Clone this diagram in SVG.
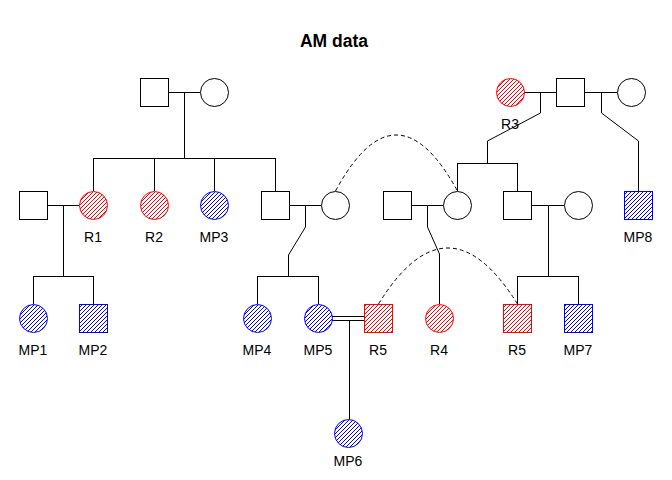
<svg xmlns="http://www.w3.org/2000/svg" width="672" height="480" viewBox="0 0 672 480">
<style>
.n{fill:#fff;stroke:#000;stroke-width:1}
.ro{fill:none;stroke:#f00;stroke-width:1}
.bo{fill:none;stroke:#00f;stroke-width:1}
.l{font-family:"Liberation Sans",Arial,sans-serif;font-size:14px;text-anchor:middle;fill:#000}
.t{font-family:"Liberation Sans",Arial,sans-serif;font-size:17.5px;font-weight:bold;text-anchor:middle;fill:#000}
#conn path{fill:none;stroke:#000;stroke-width:1}
#conn .d{stroke-dasharray:4,3}
</style>
<defs>
<path id="hr" d="M0,2L2,0M0,6L6,0M0,10L10,0M0,14L14,0M0,18L18,0M0,22L22,0M0,26L26,0M2,28L28,2M6,28L28,6M10,28L28,10M14,28L28,14M18,28L28,18M22,28L28,22M26,28L28,26" fill="none" stroke="#f00" stroke-width="1"/>
<path id="hb" d="M0,2L2,0M0,6L6,0M0,10L10,0M0,14L14,0M0,18L18,0M0,22L22,0M0,26L26,0M2,28L28,2M6,28L28,6M10,28L28,10M14,28L28,14M18,28L28,18M22,28L28,22M26,28L28,26" fill="none" stroke="#00f" stroke-width="1"/>
<path id="hr2" d="M0,3L3,0M0,7L7,0M0,11L11,0M0,15L15,0M0,19L19,0M0,23L23,0M0,27L27,0M3,28L28,3M7,28L28,7M11,28L28,11M15,28L28,15M19,28L28,19M23,28L28,23M27,28L28,27" fill="none" stroke="#f00" stroke-width="1"/>
<path id="hb2" d="M0,3L3,0M0,7L7,0M0,11L11,0M0,15L15,0M0,19L19,0M0,23L23,0M0,27L27,0M3,28L28,3M7,28L28,7M11,28L28,11M15,28L28,15M19,28L28,19M23,28L28,23M27,28L28,27" fill="none" stroke="#00f" stroke-width="1"/>
<clipPath id="cc"><circle cx="14" cy="14" r="14"/></clipPath>
</defs>
<rect width="672" height="480" fill="#fff"/>
<text class="t" x="334" y="47">AM data</text>
<g id="conn">
<path d="M168,92.5H200M184.5,92V158.5M93.5,158.5H275.5M93.5,158V191M154.5,158V191M214.5,158V191M275.5,158V191"/>
<path d="M524,92.5H556M584,92.5H617M540.5,92V113L487.5,141V163.5M457.5,163.5H517.5M457.5,163V191M517.5,163V191M601.5,92V113L638.5,141V191"/>
<path d="M47,205.5H79M63.5,205V276.5M33.5,276.5H93.5M33.5,276V304M93.5,276V304"/>
<path d="M289,205.5H321M305.5,205V227L288.5,255V276.5M257.5,276.5H318.5M257.5,276V304M318.5,276V304"/>
<path d="M411,205.5H443M427.5,205V227L439.5,254V304"/>
<path d="M532,205.5H564M548.5,205V276.5M517.5,276.5H578.5M517.5,276V304M578.5,276V304"/>
<path d="M332,316.5H364M332,320.5H364M349.5,320V419"/>
<path class="d" d="M335.5,191 Q396,79 457.5,191"/>
<path class="d" d="M378.5,304 Q447.5,192 517.5,304"/>
</g>
<g id="gf"><rect class="n" x="140.5" y="78.5" width="28" height="28"/></g>
<g id="gm"><circle class="n" cx="214.5" cy="92.5" r="14"/></g>
<g id="r3"><g transform="translate(496.5,78.5)"><use href="#hr" clip-path="url(#cc)"/><circle class="ro" cx="14" cy="14" r="14"/></g><text class="l" x="510" y="129">R3</text></g>
<g id="gf2"><rect class="n" x="556.5" y="78.5" width="28" height="28"/></g>
<g id="gm2"><circle class="n" cx="631.5" cy="92.5" r="14"/></g>
<g id="f1"><rect class="n" x="19.5" y="191.5" width="28" height="28"/></g>
<g id="r1"><g transform="translate(79.5,191.5)"><use href="#hr" clip-path="url(#cc)"/><circle class="ro" cx="14" cy="14" r="14"/></g><text class="l" x="93" y="242">R1</text></g>
<g id="r2"><g transform="translate(140.5,191.5)"><use href="#hr2" clip-path="url(#cc)"/><circle class="ro" cx="14" cy="14" r="14"/></g><text class="l" x="154" y="242">R2</text></g>
<g id="mp3"><g transform="translate(200.5,191.5)"><use href="#hb2" clip-path="url(#cc)"/><circle class="bo" cx="14" cy="14" r="14"/></g><text class="l" x="214" y="242">MP3</text></g>
<g id="f2"><rect class="n" x="261.5" y="191.5" width="28" height="28"/></g>
<g id="m2"><circle class="n" cx="335.5" cy="205.5" r="14"/></g>
<g id="f3"><rect class="n" x="383.5" y="191.5" width="28" height="28"/></g>
<g id="m3"><circle class="n" cx="457.5" cy="205.5" r="14"/></g>
<g id="f4"><rect class="n" x="503.5" y="191.5" width="28" height="28"/></g>
<g id="m4"><circle class="n" cx="578.5" cy="205.5" r="14"/></g>
<g id="mp8"><g transform="translate(624.5,191.5)"><use href="#hb2"/><rect class="bo" width="28" height="28"/></g><text class="l" x="638" y="242">MP8</text></g>
<g id="mp1"><g transform="translate(19.5,304.5)"><use href="#hb2" clip-path="url(#cc)"/><circle class="bo" cx="14" cy="14" r="14"/></g><text class="l" x="33" y="355">MP1</text></g>
<g id="mp2"><g transform="translate(79.5,304.5)"><use href="#hb2"/><rect class="bo" width="28" height="28"/></g><text class="l" x="93" y="355">MP2</text></g>
<g id="mp4"><g transform="translate(243.5,304.5)"><use href="#hb2" clip-path="url(#cc)"/><circle class="bo" cx="14" cy="14" r="14"/></g><text class="l" x="257" y="355">MP4</text></g>
<g id="mp5"><g transform="translate(304.5,304.5)"><use href="#hb" clip-path="url(#cc)"/><circle class="bo" cx="14" cy="14" r="14"/></g><text class="l" x="318" y="355">MP5</text></g>
<g id="r5a"><g transform="translate(364.5,304.5)"><use href="#hr"/><rect class="ro" width="28" height="28"/></g><text class="l" x="378" y="355">R5</text></g>
<g id="r4"><g transform="translate(425.5,304.5)"><use href="#hr2" clip-path="url(#cc)"/><circle class="ro" cx="14" cy="14" r="14"/></g><text class="l" x="439" y="355">R4</text></g>
<g id="r5b"><g transform="translate(503.5,304.5)"><use href="#hr2"/><rect class="ro" width="28" height="28"/></g><text class="l" x="517" y="355">R5</text></g>
<g id="mp7"><g transform="translate(564.5,304.5)"><use href="#hb"/><rect class="bo" width="28" height="28"/></g><text class="l" x="578" y="355">MP7</text></g>
<g id="mp6"><g transform="translate(334.5,419.5)"><use href="#hb2" clip-path="url(#cc)"/><circle class="bo" cx="14" cy="14" r="14"/></g><text class="l" x="348" y="466">MP6</text></g>
</svg>
